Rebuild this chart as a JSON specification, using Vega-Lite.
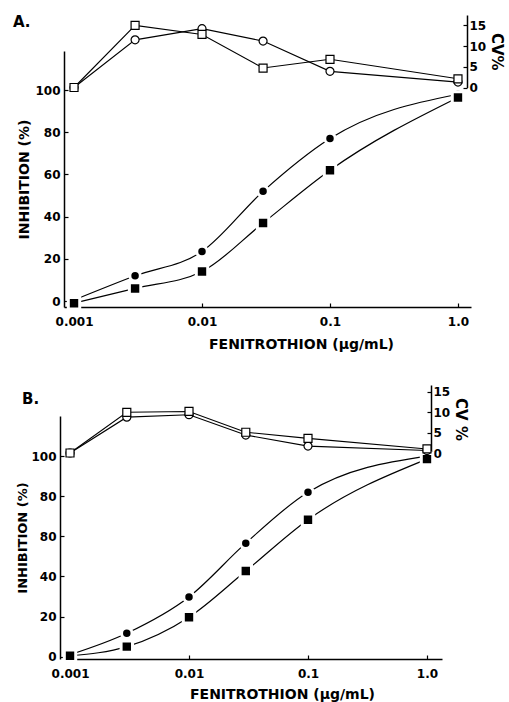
{
  "$schema": "https://vega.github.io/schema/vega-lite/v6.json",
  "background": "white",
  "padding": {"left": 12, "top": 15, "right": 5, "bottom": 2},
  "spacing": 34,
  "config": {
    "view": {"stroke": null},
    "font": "DejaVu Sans",
    "axis": {
      "grid": false,
      "domainColor": "black",
      "domainWidth": 1.5,
      "tickColor": "black",
      "tickWidth": 1.2,
      "tickSize": -4,
      "labelColor": "black",
      "labelFont": "DejaVu Sans",
      "labelFontSize": 12,
      "labelFontWeight": "bold",
      "titleColor": "black",
      "titleFont": "DejaVu Sans",
      "titleFontWeight": "bold"
    },
    "title": {"font": "DejaVu Sans", "fontWeight": "bold", "fontSize": 15, "color": "black"}
  },
  "datasets": {
    "A": [
      {"marker": "circle", "conc": 0.001, "inhibition": 0.5, "cv": 0},
      {"marker": "circle", "conc": 0.003, "inhibition": 12, "cv": 11.5},
      {"marker": "circle", "conc": 0.01, "inhibition": 23.5, "cv": 14.2},
      {"marker": "circle", "conc": 0.03, "inhibition": 52, "cv": 11.2},
      {"marker": "circle", "conc": 0.1, "inhibition": 77, "cv": 3.9},
      {"marker": "circle", "conc": 1.0, "inhibition": 98, "cv": 1.3},
      {"marker": "square", "conc": 0.001, "inhibition": -1, "cv": 0},
      {"marker": "square", "conc": 0.003, "inhibition": 6, "cv": 15},
      {"marker": "square", "conc": 0.01, "inhibition": 14, "cv": 12.8},
      {"marker": "square", "conc": 0.03, "inhibition": 37, "cv": 4.7},
      {"marker": "square", "conc": 0.1, "inhibition": 62, "cv": 6.8},
      {"marker": "square", "conc": 1.0, "inhibition": 96.5, "cv": 2.1}
    ],
    "B": [
      {"marker": "circle", "conc": 0.001, "inhibition": 1, "cv": 0},
      {"marker": "circle", "conc": 0.003, "inhibition": 11.7, "cv": 8.8},
      {"marker": "circle", "conc": 0.01, "inhibition": 29.8, "cv": 9.4},
      {"marker": "circle", "conc": 0.03, "inhibition": 56.6, "cv": 4.4},
      {"marker": "circle", "conc": 0.1, "inhibition": 82, "cv": 1.7},
      {"marker": "circle", "conc": 1.0, "inhibition": 100, "cv": 0.6},
      {"marker": "square", "conc": 0.001, "inhibition": 0.5, "cv": 0},
      {"marker": "square", "conc": 0.003, "inhibition": 5, "cv": 10},
      {"marker": "square", "conc": 0.01, "inhibition": 19.7, "cv": 10.2},
      {"marker": "square", "conc": 0.03, "inhibition": 42.7, "cv": 5.1},
      {"marker": "square", "conc": 0.1, "inhibition": 68.3, "cv": 3.6},
      {"marker": "square", "conc": 1.0, "inhibition": 98.5, "cv": 1}
    ]
  },
  "vconcat": [
    {
      "width": 407,
      "height": 292,
      "data": {"name": "A"},
      "title": {"text": "A.", "anchor": "start", "frame": "bounds", "dx": -5, "dy": 19},
      "layer": [
        {
          "layer": [
            {
              "mark": {"type": "line", "interpolate": "monotone", "color": "black", "strokeWidth": 1.2},
              "encoding": {
                "x": {"field": "conc", "type": "quantitative", "scale": {"type": "log", "domain": [0.000835, 1.264], "nice": false},
                  "axis": {"values": [0.001, 0.01, 0.1, 1], "format": "~g", "labelExpr": "datum.value >= 1 ? '1.0' : datum.label", "labelPadding": 13, "title": "FENITROTHION (μg/mL)", "titleFontSize": 14, "titlePadding": 10, "titleX": 237}},
                "y": {"field": "inhibition", "type": "quantitative", "scale": {"domain": [-2.8, 118.5], "range": [292, 36], "nice": false, "zero": false},
                  "axis": {"orient": "left", "values": [0, 20, 40, 60, 80, 100], "labelPadding": 8, "title": "INHIBITION (%)", "titleFontSize": 14, "titlePadding": 3}},
                "detail": {"field": "marker"}
              }
            },
            {
              "mark": {"type": "point", "filled": true, "fill": "black", "stroke": "white", "strokeWidth": 3, "opacity": 1},
              "encoding": {
                "x": {"field": "conc", "type": "quantitative"},
                "y": {"field": "inhibition", "type": "quantitative"},
                "shape": {"field": "marker", "type": "nominal", "scale": {"domain": ["circle", "square"], "range": ["circle", "square"]}, "legend": null},
                "size": {"field": "marker", "type": "nominal", "scale": {"domain": ["circle", "square"], "range": [110, 130]}, "legend": null}
              }
            }
          ]
        },
        {
          "layer": [
            {
              "mark": {"type": "line", "color": "black", "strokeWidth": 1.1},
              "encoding": {
                "x": {"field": "conc", "type": "quantitative"},
                "y": {"field": "cv", "type": "quantitative", "scale": {"domain": [0, 17.5], "range": [72.5, 0], "nice": false, "zero": false},
                  "axis": {"orient": "right", "offset": -4, "values": [0, 5, 10, 15], "labelPadding": 6, "title": "CV%", "titleFontSize": 15, "titlePadding": 3}},
                "detail": {"field": "marker"}
              }
            },
            {
              "mark": {"type": "point", "filled": true, "fill": "white", "stroke": "black", "strokeWidth": 1.2, "opacity": 1},
              "encoding": {
                "x": {"field": "conc", "type": "quantitative"},
                "y": {"field": "cv", "type": "quantitative"},
                "shape": {"field": "marker", "type": "nominal", "scale": {"domain": ["circle", "square"], "range": ["circle", "square"]}, "legend": null},
                "size": {"value": 64}
              }
            }
          ]
        }
      ],
      "resolve": {"scale": {"y": "independent"}}
    },
    {
      "width": 378,
      "height": 274,
      "data": {"name": "B"},
      "title": {"text": "B.", "anchor": "start", "frame": "bounds", "dx": 5, "dy": 26},
      "layer": [
        {
          "layer": [
            {
              "mark": {"type": "line", "interpolate": "monotone", "color": "black", "strokeWidth": 1.2},
              "encoding": {
                "x": {"field": "conc", "type": "quantitative", "scale": {"type": "log", "domain": [0.00089, 1.337], "nice": false},
                  "axis": {"values": [0.001, 0.01, 0.1, 1], "format": "~g", "labelExpr": "datum.value >= 1 ? '1.0' : datum.label", "labelPadding": 13, "title": "FENITROTHION (μg/mL)", "titleFontSize": 14, "titlePadding": 8, "titleX": 218}},
                "y": {"field": "inhibition", "type": "quantitative", "scale": {"domain": [-1.15, 120], "range": [274, 31], "nice": false, "zero": false},
                  "axis": {"orient": "left", "offset": 4, "values": [0, 20, 40, 60, 80, 100], "labelExpr": "datum.value == 60 ? '80' : datum.label", "labelPadding": 8, "title": "INHIBITION (%)", "titleFontSize": 13, "titlePadding": 1}},
                "detail": {"field": "marker"}
              }
            },
            {
              "mark": {"type": "point", "filled": true, "fill": "black", "stroke": "white", "strokeWidth": 3, "opacity": 1},
              "encoding": {
                "x": {"field": "conc", "type": "quantitative"},
                "y": {"field": "inhibition", "type": "quantitative"},
                "shape": {"field": "marker", "type": "nominal", "scale": {"domain": ["circle", "square"], "range": ["circle", "square"]}, "legend": null},
                "size": {"field": "marker", "type": "nominal", "scale": {"domain": ["circle", "square"], "range": [110, 130]}, "legend": null}
              }
            }
          ]
        },
        {
          "layer": [
            {
              "mark": {"type": "line", "color": "black", "strokeWidth": 1.1},
              "encoding": {
                "x": {"field": "conc", "type": "quantitative"},
                "y": {"field": "cv", "type": "quantitative", "scale": {"domain": [0, 16.7], "range": [68, 0], "nice": false, "zero": false},
                  "axis": {"orient": "right", "offset": -11, "values": [0, 5, 10, 15], "labelPadding": 6, "title": "CV %", "titleFontSize": 15, "titlePadding": 3}},
                "detail": {"field": "marker"}
              }
            },
            {
              "mark": {"type": "point", "filled": true, "fill": "white", "stroke": "black", "strokeWidth": 1.2, "opacity": 1},
              "encoding": {
                "x": {"field": "conc", "type": "quantitative"},
                "y": {"field": "cv", "type": "quantitative"},
                "shape": {"field": "marker", "type": "nominal", "scale": {"domain": ["circle", "square"], "range": ["circle", "square"]}, "legend": null},
                "size": {"value": 64}
              }
            }
          ]
        }
      ],
      "resolve": {"scale": {"y": "independent"}}
    }
  ]
}
